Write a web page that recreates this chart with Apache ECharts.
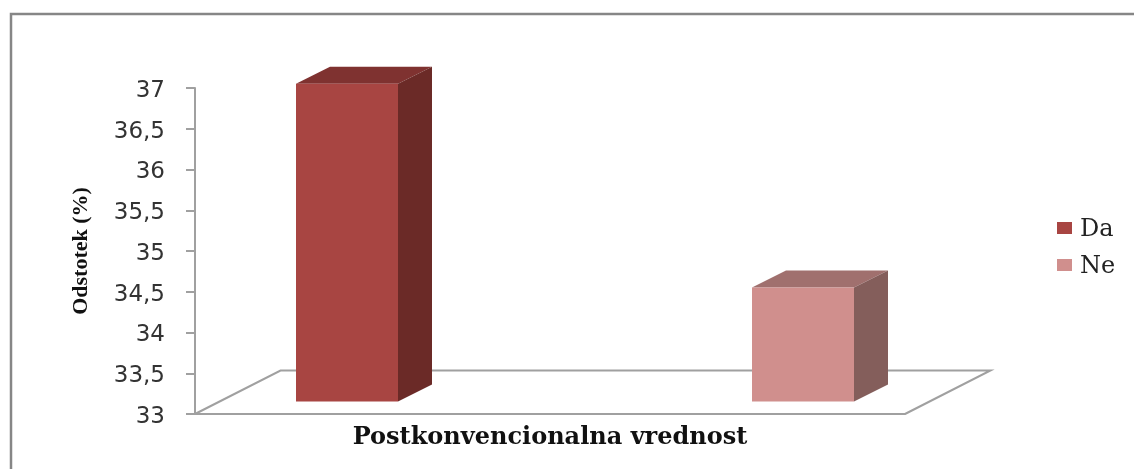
<!DOCTYPE html>
<html>
<head>
<meta charset="utf-8">
<style>html,body{margin:0;padding:0;background:#fff}#c{width:1134px;height:469px}</style>
<script src="https://cdn.jsdelivr.net/npm/echarts@6/dist/echarts.min.js"></script>
</head>
<body>
<div id="c"></div>
<script>
const categories = ['Postkonvencionalna vrednost'];
const daValues = [36.9];
const neValues = [34.4];
const seriesNames = ['Da', 'Ne'];
const yAxisTitle = 'Odstotek (%)';

const chart = echarts.init(document.getElementById('c'), null, {renderer: 'canvas'});

const DEPTH_X = 34, DEPTH_Y = 17, BAR_W = 102, LIFT_X = 25, LIFT_Y = 12.5;
const poly = (points, fill, z2) => ({type: 'polygon', shape: {points}, style: {fill}, z2});

function barRenderer(offset, front, top, side) {
  return function (params, api) {
    const cat = api.value(0);
    const t = api.coord([cat, api.value(1)]);
    const b = api.coord([cat, 33]);
    const x0 = t[0] + LIFT_X + offset - BAR_W / 2, x1 = x0 + BAR_W;
    const yT = t[1] - LIFT_Y, yB = b[1] - LIFT_Y;
    return {
      type: 'group',
      children: [
        poly([[x0, yT], [x1, yT], [x1 + DEPTH_X, yT - DEPTH_Y], [x0 + DEPTH_X, yT - DEPTH_Y]], top, 1),
        poly([[x1, yT], [x1 + DEPTH_X, yT - DEPTH_Y], [x1 + DEPTH_X, yB - DEPTH_Y], [x1, yB]], side, 1),
        poly([[x0, yT], [x1, yT], [x1, yB], [x0, yB]], front, 2)
      ]
    };
  };
}

function floorRenderer(params) {
  const g = params.coordSys;
  const xL = g.x, xR = g.x + g.width, yF = g.y + g.height;
  const dx = 85.5, dy = 43.5;
  return {
    type: 'polyline',
    shape: {points: [[xL, yF], [xL + dx, yF - dy], [xR + dx, yF - dy], [xR, yF]]},
    style: {stroke: '#a0a0a0', lineWidth: 2, fill: 'none'},
    silent: true
  };
}

chart.setOption({
  animation: false,
  backgroundColor: '#ffffff',
  graphic: [{
    type: 'polyline',
    shape: {points: [[11, 469], [11, 14], [1134, 14]]},
    style: {stroke: '#868686', lineWidth: 2.5, fill: 'none'},
    silent: true
  }],
  legend: {
    data: seriesNames,
    orient: 'vertical',
    left: 1057,
    top: 214,
    padding: 0,
    icon: 'rect',
    itemWidth: 15,
    itemHeight: 12,
    itemGap: 9,
    formatter: '{t|{name}}',
    textStyle: {
      rich: {t: {fontFamily: 'DejaVu Serif', fontSize: 24, color: '#222', lineHeight: 24, padding: [4, 0, 0, 3]}}
    }
  },
  grid: {left: 195, top: 88, width: 710, height: 326, containLabel: false},
  xAxis: {
    type: 'category',
    data: categories,
    axisLine: {lineStyle: {color: '#a0a0a0', width: 2}},
    axisTick: {show: false},
    axisLabel: {
      margin: 12,
      fontFamily: 'DejaVu Serif',
      fontWeight: 'bold',
      fontSize: 24,
      color: '#111'
    }
  },
  yAxis: {
    type: 'value',
    min: 33,
    max: 37,
    interval: 0.5,
    name: yAxisTitle,
    nameLocation: 'middle',
    nameGap: 103,
    nameTextStyle: {fontFamily: 'Liberation Serif', fontWeight: 'bold', fontSize: 22, color: '#111'},
    axisLine: {show: true, lineStyle: {color: '#a0a0a0', width: 2}},
    axisTick: {show: true, length: 9, lineStyle: {color: '#a0a0a0', width: 2}},
    splitLine: {show: false},
    axisLabel: {
      margin: 30,
      verticalAlign: 'top',
      lineHeight: 6,
      fontFamily: 'DejaVu Sans',
      fontSize: 23,
      color: '#333',
      formatter: v => String(v).replace('.', ',')
    }
  },
  series: [
    {type: 'custom', name: 'floor', silent: true, z: 1, data: [[0, 33]], renderItem: floorRenderer, encode: {x: 0, y: 1}},
    {type: 'custom', name: seriesNames[0], z: 3, itemStyle: {color: '#a84542'},
      data: daValues.map((v, i) => [i, v]), encode: {x: 0, y: 1},
      renderItem: barRenderer(-228, '#a84542', '#7f3230', '#6b2a27')},
    {type: 'custom', name: seriesNames[1], z: 3, itemStyle: {color: '#d08f8d'},
      data: neValues.map((v, i) => [i, v]), encode: {x: 0, y: 1},
      renderItem: barRenderer(228, '#d08f8d', '#a0706e', '#845e5b')}
  ]
});
</script>
</body>
</html>
